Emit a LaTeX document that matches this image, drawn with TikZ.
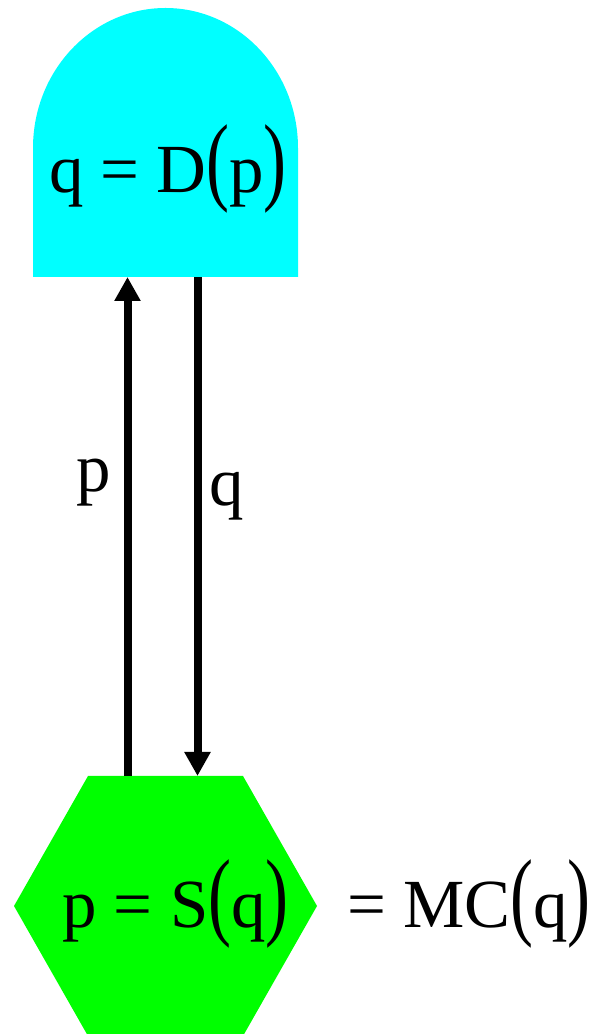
\documentclass[tikz,border=0pt]{standalone}
\usepackage{fontspec}
\setmainfont{Liberation Serif}
\usepackage{graphicx}
\usetikzlibrary{arrows.meta}
\definecolor{demcyan}{RGB}{0,255,255}
\definecolor{supgreen}{RGB}{0,255,0}
\newcommand{\tallL}{\scalebox{1}[1.42]{(}}
\newcommand{\tallR}{\scalebox{1}[1.42]{)}}
\tikzset{
  eqn/.style  = {inner sep=0, anchor=base, font=\fontsize{49}{59}\selectfont},
  flow/.style = {line width=0.2cm, -{Triangle[length=0.6cm, width=0.62cm]}},
  demand/.style = {fill=demcyan},
  supply/.style = {fill=supgreen}
}
\begin{document}
\begin{tikzpicture}[x=0.025cm, y=0.025cm]
  \useasboundingbox (0,0) rectangle (598,1034);
  % demand block: rectangle with round top
  \fill[demand] (33,757) -- (33,886) arc[start angle=180, end angle=0, x radius=132.5, y radius=140] -- (298,757) -- cycle;
  \coordinate (dL) at (127.5,757); \coordinate (dR) at (197.5,757);
  % supply hexagon
  \fill[supply] (88,258) -- (243,258) -- (317,128) -- (243,-2) -- (88,-2) -- (14,128) -- cycle;
  \coordinate (sL) at (127.5,258); \coordinate (sR) at (197.5,258);
  \node[eqn] (dtxt) at (168,841) {q = D\tallL p\tallR};
  \node[eqn] (stxt) at (175.5,106) {p = S\tallL q\tallR};
  \node[eqn, anchor=base west] (mc) at (347,106) {= MC\tallL q\tallR};
  \draw[flow] (sL) -- (dL);
  \draw[flow] (dR) -- (sR);
  \node[eqn] (lp) at (94,542) {p};
  \node[eqn] (lq) at (226.5,528) {q};
\end{tikzpicture}
\end{document}
